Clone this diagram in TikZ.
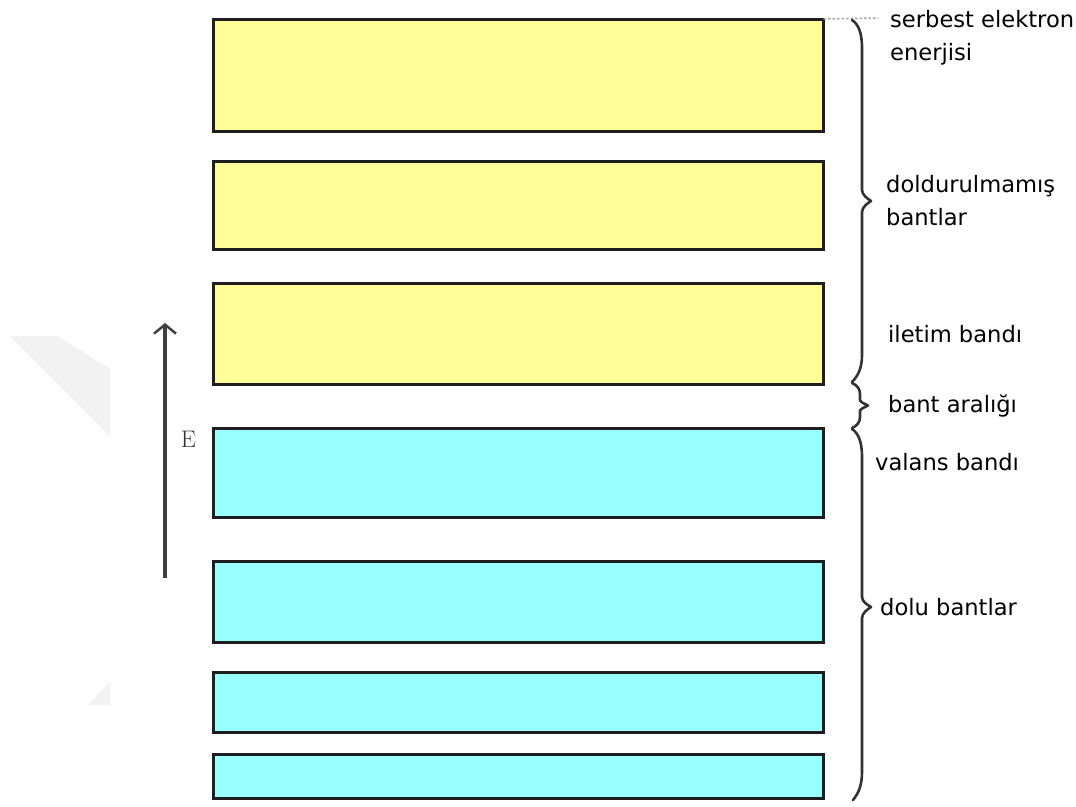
\documentclass[tikz,border=0pt]{standalone}
\usepackage{fontspec}
\newfontfamily\labelfont{DejaVu Sans}
\usetikzlibrary{arrows.meta}
\definecolor{bandyellow}{HTML}{FFFF99}
\definecolor{bandcyan}{HTML}{99FFFF}
\definecolor{edgedark}{HTML}{1E1E1E}
\definecolor{markgray}{HTML}{F2F2F2}
\tikzset{
  bandbox/.style={draw=edgedark, line width=3pt, minimum width=610pt, inner sep=0pt, outer sep=0pt},
  ybar/.style={bandbox, fill=bandyellow},
  cbar/.style={bandbox, fill=bandcyan},
  bracket/.style={draw=black!80, line width=2.6pt, line join=round, line cap=round},
  lbl/.style={font=\labelfont\fontsize{22.6}{26}\selectfont, anchor=base west, inner sep=0pt, text=black},
}
\begin{document}
\begin{tikzpicture}[x=1pt, y=-1pt]
\useasboundingbox (0,0) rectangle (1076,806);
% faint background mark
\fill[markgray] (10,336) -- (58,336) -- (110,369) -- (110,436) -- cycle;
\fill[markgray] (88,705) -- (110,682) -- (110,705) -- cycle;

% energy bands
\node[ybar, minimum height=112pt] (b1) at (518.5,75) {};
\node[ybar, minimum height=88pt]  (b2) at (518.5,205) {};
\node[ybar, minimum height=101pt] (b3) at (518.5,333.5) {};
\node[cbar, minimum height=89pt]  (b4) at (518.5,472.5) {};
\node[cbar, minimum height=81pt]  (b5) at (518.5,601.5) {};
\node[cbar, minimum height=60pt]  (b6) at (518.5,702) {};
\node[cbar, minimum height=44pt]  (b7) at (518.5,776) {};

% free-electron level
\coordinate (free) at (878,18);
\draw[gray!70, line width=1.5pt, dash pattern=on 2.5pt off 2pt] (b1.north east) -- (free);

% energy axis
\coordinate (eLow) at (165,578);
\coordinate (eHigh) at (165,323);
\draw[black!75, line width=3.5pt, -{Straight Barb[length=9pt, width=22pt, line width=2.5pt]}] (eLow) -- (eHigh);
\node[font=\fontsize{24}{26}\selectfont, text=black!80] (E) at (188.5,439) {E};

% braces
\draw[bracket] (852,20) .. controls (858,24) and (862,32) .. (862,48)
  -- (862,190) .. controls (862,195) and (868,199) .. (871,201)
  .. controls (868,203) and (862,207) .. (862,212)
  -- (862,355) .. controls (862,368) and (858,376) .. (852,382);
\draw[bracket] (852,383) .. controls (857,385) and (860,389) .. (860,394)
  -- (860,400) .. controls (860,402) and (865,404) .. (868,405.5)
  .. controls (865,407) and (860,409) .. (860,411)
  -- (860,417) .. controls (860,422) and (857,426) .. (852,428);
\draw[bracket] (852,429) .. controls (858,433) and (862,441) .. (862,457)
  -- (862,597) .. controls (862,602) and (868,605) .. (871,607)
  .. controls (868,609) and (862,613) .. (862,618)
  -- (862,772) .. controls (862,786) and (858,794) .. (853,800);

% labels
\node[lbl] (l1) at (890,27) {serbest elektron};
\node[lbl] (l2) at (890,60) {enerjisi};
\node[lbl] (l3) at (886,192) {doldurulmamış};
\node[lbl] (l4) at (886,225) {bantlar};
\node[lbl] (l5) at (888,342) {iletim bandı};
\node[lbl] (l6) at (888,412) {bant aralığı};
\node[lbl] (l7) at (875,470) {valans bandı};
\node[lbl] (l8) at (880,615) {dolu bantlar};
\end{tikzpicture}
\end{document}
